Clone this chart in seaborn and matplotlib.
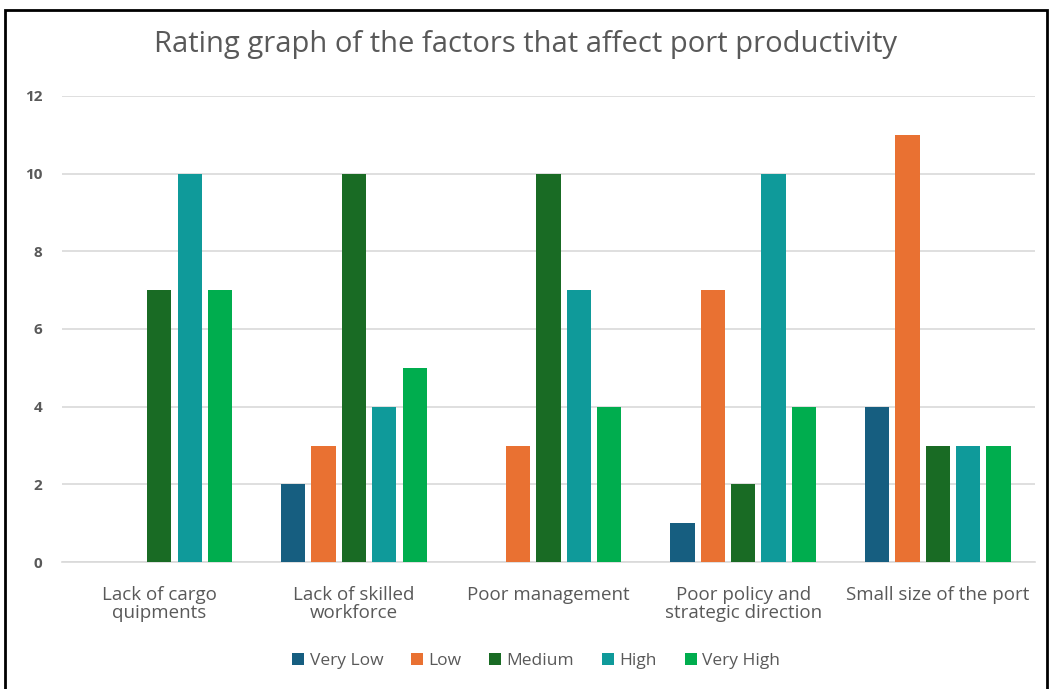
import matplotlib
matplotlib.use("Agg")
import matplotlib.pyplot as plt
import pandas as pd
import seaborn as sns
from matplotlib.patches import Rectangle

# 数据
categories = [
    "Lack of cargo\nquipments",
    "Lack of skilled\nworkforce",
    "Poor management",
    "Poor policy and\nstrategic direction",
    "Small size of the port",
]
ratings = ["Very Low", "Low", "Medium", "High", "Very High"]
very_low = [0, 2, 0, 1, 4]
low = [0, 3, 3, 7, 11]
medium = [7, 10, 10, 2, 3]
high = [10, 4, 7, 10, 3]
very_high = [7, 5, 4, 4, 3]
colors = ["#165E80", "#E97132", "#196B24", "#0F9A9A", "#00AD4E"]

series = [very_low, low, medium, high, very_high]
rows = []
for rating, values in zip(ratings, series):
    for cat, v in zip(categories, values):
        rows.append({"factor": cat, "rating": rating, "count": v})
df = pd.DataFrame(rows)

sns.set_theme(style="white")
plt.rcParams["font.family"] = ["Open Sans", "DejaVu Sans"]

fig = plt.figure(figsize=(10.51, 6.89), dpi=100)
ax = fig.add_axes([0.059, 0.184, 0.926, 0.677])

sns.barplot(
    data=df,
    x="factor",
    y="count",
    hue="rating",
    order=categories,
    hue_order=ratings,
    palette=colors,
    width=0.78,
    gap=0.2,
    saturation=1,
    linewidth=0,
    ax=ax,
    zorder=3,
)

ax.set_ylim(0, 12)
ax.set_yticks(range(0, 13, 2))
ax.yaxis.grid(True, color="#D9D9D9", linewidth=1.2, zorder=0)
ax.xaxis.grid(False)
for side in ["top", "right", "left"]:
    ax.spines[side].set_visible(False)
ax.spines["bottom"].set_color("#D9D9D9")
ax.spines["bottom"].set_linewidth(1.2)
ax.set_xlabel("")
ax.set_ylabel("")
ax.tick_params(axis="y", colors="#595959", labelsize=11, pad=14, length=0)
ax.tick_params(axis="x", colors="#595959", labelsize=13.5, pad=17, length=0)
for lbl in ax.get_yticklabels():
    lbl.set_fontweight("bold")
for lbl in ax.get_xticklabels():
    lbl.set_linespacing(1.0)

fig.suptitle(
    "Rating graph of the factors that affect port productivity",
    x=0.5, y=0.957, fontsize=21, color="#595959",
)

handles, labels = ax.get_legend_handles_labels()
ax.legend_.remove()
fig.legend(
    handles, labels,
    loc="center", bbox_to_anchor=(0.51, 0.041), ncol=5, frameon=False,
    fontsize=12.5, labelcolor="#595959", handlelength=0.7, handleheight=0.7,
    handletextpad=0.3, columnspacing=1.6,
)

fig.patches.append(Rectangle(
    (5 / 1051, -0.01), 1042 / 1051, 1 - 10 / 689 + 0.01,
    transform=fig.transFigure, fill=False, edgecolor="black", linewidth=2,
))

fig.savefig("out.png", dpi=100, facecolor="white")
